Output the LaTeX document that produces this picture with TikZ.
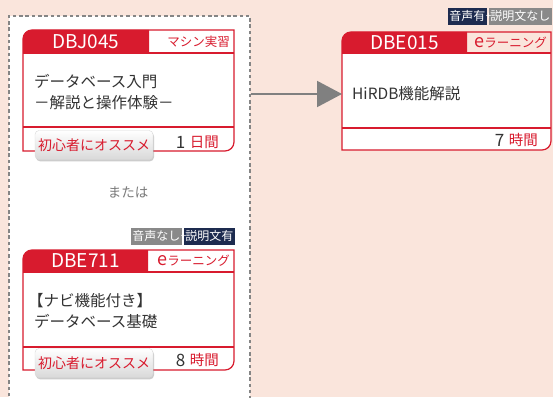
\documentclass[tikz,border=0pt]{standalone}
\usepackage{fontspec}
\setmainfont{Noto Sans CJK JP}
\usetikzlibrary{arrows.meta, positioning, shadows}
\definecolor{hdred}{HTML}{D81B2E}
\definecolor{bgpeach}{HTML}{FAE5DC}
\definecolor{txdark}{HTML}{333333}
\definecolor{txgrey}{HTML}{7A7A7A}
\definecolor{tagnavy}{HTML}{1D2B4F}
\definecolor{taggrey}{HTML}{898989}
\definecolor{arrgrey}{HTML}{808080}
\definecolor{boxgrey}{HTML}{858585}

\begin{document}
\begin{tikzpicture}[x=1pt, y=1pt,
      grpbox/.style={draw=boxgrey, line width=1.8pt, dash pattern=on 3.5pt off 2.8pt, fill=white, anchor=north west, inner sep=0pt},
      card/.style={anchor=north west, inner sep=0pt, minimum width=211pt},
      frame/.style={draw=hdred, line width=1.2pt},
      cid/.style={font=\fontsize{19}{19}\selectfont, text=white, inner sep=0pt},
      ctype/.style={font=\fontsize{12.5}{12.5}\selectfont, text=hdred, anchor=east, inner sep=0pt},
      cbody/.style={font=\fontsize{15.5}{21}\selectfont, text=txdark, align=left, anchor=west, inner sep=0pt},
      chrs/.style={font=\fontsize{14.5}{14.5}\selectfont, text=hdred, anchor=east, inner sep=0pt},
      num/.style={font=\fontsize{17}{17}\selectfont, text=txdark, anchor=east, inner sep=0pt},
      badge/.style={draw=black!15, rounded corners=4pt, top color=white, bottom color=black!15, minimum width=118pt, minimum height=29pt, inner sep=0pt,
                    font=\fontsize{14}{14}\selectfont, text=hdred, drop shadow={shadow xshift=1pt, shadow yshift=-1.8pt, opacity=.4}},
      tag/.style={font=\fontsize{12}{12}\selectfont, text=white, inner xsep=1.5pt, inner ysep=0pt, minimum height=17pt},
      tagon/.style={tag, fill=tagnavy},
      tagoff/.style={tag, fill=taggrey},
      plus/.style={font=\fontsize{10}{10}\selectfont, text=white, inner sep=0pt},
      flowarr/.style={draw=arrgrey, line width=2pt, -{Triangle[length=25pt, width=26pt]}}]

      \fill[bgpeach] (0,0) rectangle (553,397);
      \useasboundingbox (0,0) rectangle (553,397);

      % dashed group of the two alternatives
      \node[grpbox, minimum width=241pt, minimum height=420pt] (grp) at (8,382) {};

      % DBJ045
      \node[card, minimum height=121pt] (c1) at (23,367) {};
      \fill[white] (23,344) -- (234,344) -- (234,255) arc[start angle=0, end angle=-90, radius=9pt] -- (23,246) -- cycle;
      \fill[hdred] (23,344) -- (23,358) arc[start angle=180, end angle=90, radius=9pt] -- (149,367) -- (149,344) -- cycle;
      \draw[frame] (23,246) -- (23,358) arc[start angle=180, end angle=90, radius=9pt] -- (234,367) -- (234,255) arc[start angle=0, end angle=-90, radius=9pt] -- cycle;
      \draw[frame] (23,344) -- (234,344) (23,270) -- (234,270);
      \node[cid] (id1) at (86,355.5) {DBJ045};
      \node[ctype] (ty1) at (230,355.5) {マシン実習};
      \node[cbody] (b1) at (34,304.5) {データベース入門\\－解説と操作体験－};
      \node[badge] (r1) at (94,252) {初心者にオススメ};
      \node[chrs] (h1) at (219,255) {日間};
      \node[num, left=4pt of h1] (n1) {1};

      \node[font=\fontsize{13.5}{13.5}\selectfont, text=txgrey] (or) at (128,205) {または};

      % DBE711
      \node[card, minimum height=120pt] (c2) at (23,147) {};
      \fill[white] (23,125) -- (234,125) -- (234,36) arc[start angle=0, end angle=-90, radius=9pt] -- (23,27) -- cycle;
      \fill[hdred] (23,125) -- (23,138) arc[start angle=180, end angle=90, radius=9pt] -- (148,147) -- (148,125) -- cycle;
      \draw[frame] (23,27) -- (23,138) arc[start angle=180, end angle=90, radius=9pt] -- (234,147) -- (234,36) arc[start angle=0, end angle=-90, radius=9pt] -- cycle;
      \draw[frame] (23,125) -- (234,125) (23,50) -- (234,50);
      \node[cid] (id2) at (85.5,136) {DBE711};
      \node[ctype] (ty2) at (230,136) {{\fontsize{18}{18}\selectfont e}ラーニング};
      \node[cbody] (b2) at (34,86) {\kern-6pt【ナビ機能付き】\\データベース基礎};
      \node[badge] (r2) at (94,34) {初心者にオススメ};
      \node[chrs] (h2) at (219,37) {時間};
      \node[num, left=4pt of h2] (n2) {8};
      \node[tagon, anchor=south east] (t2b) at (235,152) {説明文有};
      \node[tagoff, left=1.5pt of t2b] (t2a) {音声なし};
      \node[plus] (p2) at (t2b.west) {+};

      % DBE015
      \node[card, minimum height=118pt] (c3) at (342,365) {};
      \fill[white] (342,344) -- (551,344) -- (551,256) arc[start angle=0, end angle=-90, radius=9pt] -- (342,247) -- cycle;
      \fill[hdred] (342,344) -- (342,356) arc[start angle=180, end angle=90, radius=9pt] -- (467,365) -- (467,344) -- cycle;
      \draw[frame] (342,247) -- (342,356) arc[start angle=180, end angle=90, radius=9pt] -- (551,365) -- (551,256) arc[start angle=0, end angle=-90, radius=9pt] -- cycle;
      \draw[frame] (342,344) -- (551,344) (342,269) -- (551,269);
      \node[cid] (id3) at (404.5,354.5) {DBE015};
      \node[ctype] (ty3) at (547,354.5) {{\fontsize{18}{18}\selectfont e}ラーニング};
      \node[cbody] (b3) at (352,303) {HiRDB機能解説};
      \node[chrs] (h3) at (538,257) {時間};
      \node[num, left=4pt of h3] (n3) {7};
      \node[tagoff, anchor=south east] (t3b) at (552,372) {説明文なし};
      \node[tagon, left=1.5pt of t3b] (t3a) {音声有};
      \node[plus] (p3) at (t3b.west) {+};

      \draw[flowarr] (grp.east |- b3) -- (c3.west |- b3);
    \end{tikzpicture}
\end{document}
